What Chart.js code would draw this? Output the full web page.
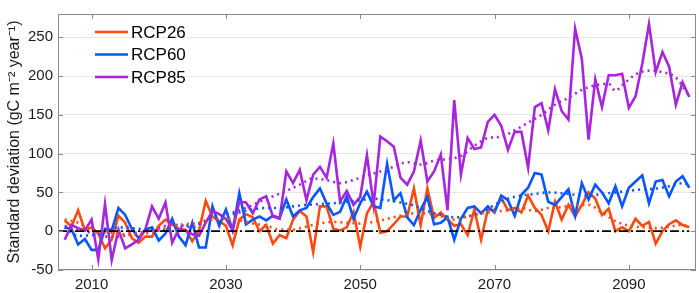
<!DOCTYPE html>
<html><head><meta charset="utf-8">
<script src="https://cdn.jsdelivr.net/npm/chart.js@4/dist/chart.umd.min.js"></script>
<style>html,body{margin:0;padding:0;background:#fff;}#wrap{width:699px;height:293px;}</style>
</head><body><div id="wrap"><canvas id="c" width="699" height="293"></canvas></div>
<script>
const years = [2006,2007,2008,2009,2010,2011,2012,2013,2014,2015,2016,2017,2018,2019,2020,2021,2022,2023,2024,2025,2026,2027,2028,2029,2030,2031,2032,2033,2034,2035,2036,2037,2038,2039,2040,2041,2042,2043,2044,2045,2046,2047,2048,2049,2050,2051,2052,2053,2054,2055,2056,2057,2058,2059,2060,2061,2062,2063,2064,2065,2066,2067,2068,2069,2070,2071,2072,2073,2074,2075,2076,2077,2078,2079,2080,2081,2082,2083,2084,2085,2086,2087,2088,2089,2090,2091,2092,2093,2094,2095,2096,2097,2098,2099];
const rcp26 = [14,6,27,1,5,-3,-22,-11,20,11,-9,-15,-7,-7,7,15,9,3,2,-13,1,39,19,13,7,-18,15,22,18,0,8,-16,-5,-9,15,26,19,-27,32,32,3,1,5,25,-20,23,38,-2,0,9,19,19,55,8,55,17,24,15,7,9,-5,28,-11,28,27,43,27,30,24,46,30,21,0,38,15,34,19,34,50,42,21,29,0,5,0,16,7,12,-16,0,9,14,8,5];
const rcp60 = [5,3,-17,-10,-24,-24,3,1,30,21,3,-9,2,5,-12,-3,16,-7,-18,11,-21,-21,32,7,28,1,49,9,15,19,14,20,17,41,19,27,30,44,55,36,21,25,45,16,36,51,32,30,87,40,49,18,8,28,44,9,11,18,-11,16,30,32,23,32,24,46,40,20,47,56,75,73,38,34,44,54,20,62,41,60,50,36,58,32,56,64,72,36,64,66,45,64,71,56];
const rcp85 = [-11,8,4,1,15,-36,35,-37,2,-22,-17,-11,2,32,16,37,-15,3,1,-4,-6,11,26,22,16,1,38,37,23,41,45,19,16,77,62,79,40,73,83,69,113,38,52,34,44,98,34,122,116,109,69,60,77,117,64,77,99,27,169,73,120,106,108,141,150,136,105,128,128,82,160,165,130,183,155,144,261,222,118,196,160,201,201,203,159,174,216,267,205,231,212,163,192,173];

const trend26Years = [2006,2008,2010,2012,2014,2016,2018,2020,2022,2024,2026,2028,2030,2032,2034,2036,2038,2040,2042,2044,2046,2048,2050,2052,2054,2056,2058,2060,2062,2064,2066,2068,2070,2072,2074,2076,2078,2080,2082,2084,2086,2088,2090,2092,2094,2096,2098,2099];
const trend26 = [15,11,2,-1,-3,-5,-3,1,7,9,11,15,16,14,10,7,2,2,6,10,12,11,10,12,16,20,23,23,19,15,19,23,25,27,30,26,30,31,34,34,24,13,7,5,4,6,8,5];
const trend60Years = [2006,2008,2010,2012,2014,2016,2018,2020,2022,2024,2026,2028,2030,2032,2034,2036,2038,2040,2042,2044,2046,2048,2050,2052,2054,2056,2058,2060,2062,2064,2066,2068,2070,2072,2074,2076,2078,2080,2082,2084,2086,2088,2090,2092,2094,2096,2098,2099];
const trend60 = [5,-6,-5,-1,5,4,2,1,4,7,10,16,20,24,28,30,30,32,34,35,36,38,40,42,40,37,33,26,21,18,19,24,34,42,46,48,50,49,47,46,48,50,52,54,55,58,62,60];
const trend85Years = [2006,2009,2012,2014,2016,2019,2021,2023,2025,2027,2029,2031,2033,2035,2037,2039,2041,2043,2045,2047,2049,2051,2053,2055,2057,2059,2061,2063,2065,2067,2069,2071,2073,2075,2077,2079,2081,2083,2085,2087,2088,2089,2091,2093,2095,2097,2099];
const trend85 = [7,0,-7,-7,-3,1,7,8,5,14,19,24,30,38,45,52,60,68,66,62,66,72,77,83,89,86,91,93,97,110,120,122,130,140,150,163,172,182,188,190,181,188,202,207,205,198,174];

const zeroLineYears = [2005,2099];
const zeroLine = [0,0];
const xTickLabels = [2010,2030,2050,2070,2090];
const yTickLabels = [-50,0,50,100,150,200,250];
const seriesNames = ['RCP26','RCP60','RCP85'];
const colors = ['#ff4a0f','#0a55ff','#a726dd'];

function pts(xs, ys){ return xs.map((x,i)=>({x:x, y:ys[i]})); }
const FONT = "'Liberation Sans', Arial, sans-serif";

const framePlugin = {
  id:'frame',
  afterDatasetsDraw(chart){
    const ctx = chart.ctx, a = chart.chartArea;
    const xs = chart.scales.x, ys = chart.scales.y;
    ctx.save();
    ctx.strokeStyle = '#8a8a8a';
    ctx.lineWidth = 1;
    ctx.beginPath();
    xTickLabels.forEach(v=>{
      const px = Math.round(xs.getPixelForValue(v))+0.5;
      ctx.moveTo(px, a.bottom); ctx.lineTo(px, a.bottom-5);
      ctx.moveTo(px, a.top); ctx.lineTo(px, a.top+5);
    });
    yTickLabels.forEach(v=>{
      const py = Math.round(ys.getPixelForValue(v))+0.5;
      ctx.moveTo(a.left, py); ctx.lineTo(a.left+5, py);
      ctx.moveTo(a.right, py); ctx.lineTo(a.right-5, py);
    });
    ctx.stroke();
    ctx.strokeRect(Math.round(a.left)+0.5, Math.round(a.top)+0.5, Math.round(a.right-a.left)-1, Math.round(a.bottom-a.top)-1);
    ctx.restore();
  }
};

const legendPlugin = {
  id:'legendBox',
  afterDraw(chart){
    const ctx = chart.ctx;
    const rows = [32, 54.5, 77];
    ctx.save();
    ctx.font = "17px " + FONT;
    ctx.textBaseline = 'middle';
    ctx.fillStyle = '#000';
    seriesNames.forEach((n,i)=>{
      ctx.strokeStyle = colors[i];
      ctx.lineWidth = 2.6;
      ctx.beginPath(); ctx.moveTo(95, rows[i]); ctx.lineTo(128, rows[i]); ctx.stroke();
      ctx.fillText(n, 131, rows[i]+1);
    });
    ctx.restore();
  }
};

const dotted = [2, 4];
new Chart(document.getElementById('c'), {
  type:'line',
  data:{
    datasets:[
      {label:'zero', data:pts(zeroLineYears, zeroLine), borderColor:'#000', borderWidth:1.8, borderDash:[9,3,2,3], pointRadius:0, order:0},
      {label:seriesNames[0]+' trend', data:pts(trend26Years, trend26), borderColor:colors[0], borderWidth:2.6, borderDash:dotted, pointRadius:0, cubicInterpolationMode:'monotone', order:1},
      {label:seriesNames[1]+' trend', data:pts(trend60Years, trend60), borderColor:colors[1], borderWidth:2.6, borderDash:dotted, pointRadius:0, cubicInterpolationMode:'monotone', order:1},
      {label:seriesNames[2]+' trend', data:pts(trend85Years, trend85), borderColor:colors[2], borderWidth:2.6, borderDash:dotted, pointRadius:0, cubicInterpolationMode:'monotone', order:1},
      {label:seriesNames[2], data:pts(years, rcp85), borderColor:colors[2], borderWidth:2.6, pointRadius:0, tension:0, order:2},
      {label:seriesNames[1], data:pts(years, rcp60), borderColor:colors[1], borderWidth:2.6, pointRadius:0, tension:0, order:3},
      {label:seriesNames[0], data:pts(years, rcp26), borderColor:colors[0], borderWidth:2.6, pointRadius:0, tension:0, order:4}
    ]
  },
  options:{
    responsive:false,
    animation:false,
    devicePixelRatio:1,
    layout:{padding:{top:2,right:3,left:0,bottom:0}},
    plugins:{legend:{display:false}, tooltip:{enabled:false}},
    scales:{
      x:{
        type:'linear', min:2005, max:2100,
        afterBuildTicks:(s)=>{ s.ticks = xTickLabels.map(v=>({value:v})); },
        afterFit:(s)=>{ s.height = 23; },
        grid:{display:false, drawTicks:false},
        border:{display:false},
        ticks:{font:{size:15, family:FONT}, color:'#1a1a1a', padding:6, maxRotation:0, autoSkip:false, callback:(v)=>String(v)}
      },
      y:{
        min:-50, max:280,
        afterBuildTicks:(s)=>{ s.ticks = yTickLabels.map(v=>({value:v})); },
        afterFit:(s)=>{ s.width = 58; },
        grid:{color:'#e6e6e6', drawTicks:false, lineWidth:1},
        border:{display:false},
        ticks:{font:{size:15, family:FONT}, color:'#1a1a1a', padding:5},
        title:{display:true, text:'Standard deviation (gC m\u207B\u00B2 year\u207B\u00B9)', font:{size:16, family:FONT}, color:'#1a1a1a', padding:{top:5, bottom:0}}
      }
    }
  },
  plugins:[framePlugin, legendPlugin]
});
</script></body></html>
